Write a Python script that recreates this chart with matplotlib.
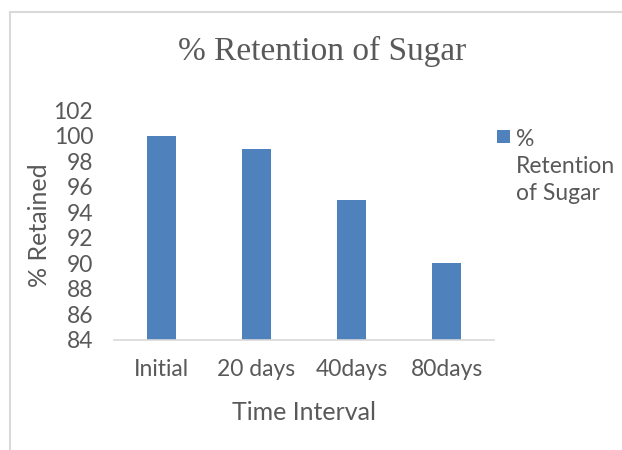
import matplotlib
matplotlib.use("Agg")
import matplotlib.pyplot as plt
from matplotlib.patches import Rectangle

categories = ["Initial", "20 days", "40days", "80days"]
values = [100, 99, 95, 90]
yticks = [84, 86, 88, 90, 92, 94, 96, 98, 100, 102]
series_name = "%\nRetention\nof Sugar"

txt = "#595959"
bar_color = "#4F81BD"
font = "Lato"
W, H = 622, 450

fig = plt.figure(figsize=(W/100, H/100), dpi=100)
x0, x1, y0, y1 = 114, 494, 340, 110.5
ax = fig.add_axes([x0/W, 1-y0/H, (x1-x0)/W, (y0-y1)/H])

bars = ax.bar(range(len(categories)), values, width=0.31, color=bar_color, label=series_name, zorder=2)
ax.set_ylim(84, 102)
ax.set_xlim(-0.5, len(categories)-0.5)
ax.set_yticks(yticks)
ax.set_xticks(range(len(categories)))
ax.set_xticklabels(categories)
for s in ["top", "right", "left"]:
    ax.spines[s].set_visible(False)
ax.spines["bottom"].set_color("#d9d9d9")
ax.spines["bottom"].set_linewidth(1.2)
ax.tick_params(length=0, colors=txt, labelsize=16.5)
ax.tick_params(axis="x", pad=14)
ax.tick_params(axis="y", pad=15)
for lab in ax.get_xticklabels() + ax.get_yticklabels():
    lab.set_fontfamily(font)

ax.set_xlabel("Time Interval", fontsize=18, color=txt, fontfamily=font, va="center")
ax.xaxis.set_label_coords(0.5, -(412-y0)/(y0-y1))
ax.set_ylabel("% Retained", fontsize=18, color=txt, fontfamily=font, va="center", ha="center")
ax.yaxis.set_label_coords((40-x0)/(x1-x0), 0.5)

fig.text(322/W, 1-51/H, "% Retention of Sugar", ha="center", va="center",
         fontsize=24, color=txt, fontfamily="Liberation Serif")

# legend (drawn from the bar container's label and colour)
handles, labels = ax.get_legend_handles_labels()
fig.patches.append(Rectangle((497/W, 1-143/H), 13/W, 13/H, transform=fig.transFigure,
                             facecolor=handles[0].patches[0].get_facecolor(), edgecolor="none"))
fig.text(516/W, 1-129/H, labels[0], ha="left", va="top", fontsize=16.5, color=txt,
         fontfamily=font, linespacing=1.36)

fig.patches.append(Rectangle((10/W, -0.1), 1.2, 0.1 + 1-12/H, transform=fig.transFigure,
                             fill=False, edgecolor="#d9d9d9", linewidth=1.5))

fig.savefig("out.png", dpi=100)
